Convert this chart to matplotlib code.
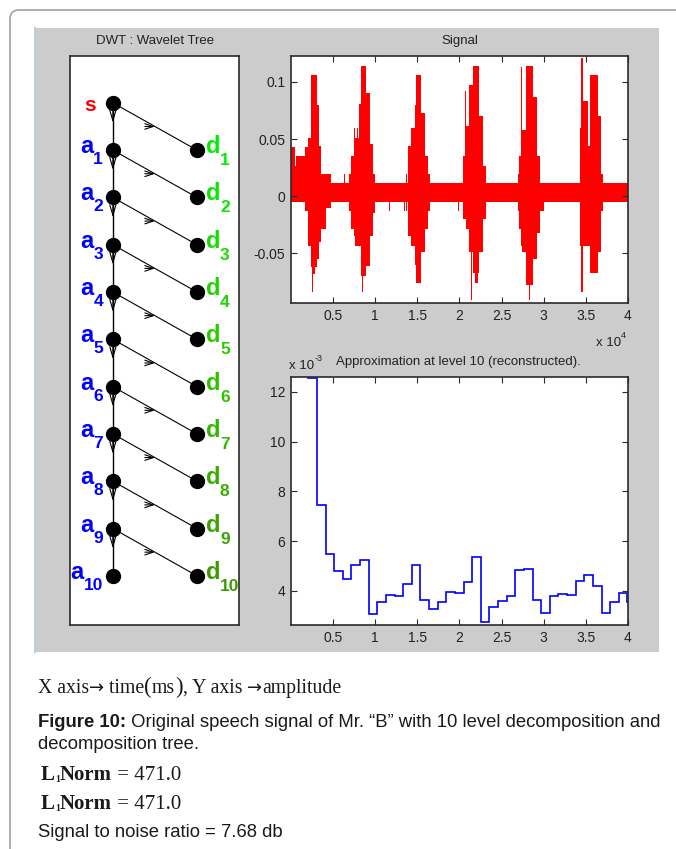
import numpy as np
import matplotlib.pyplot as plt
from matplotlib.patches import Rectangle, FancyBboxPatch
from matplotlib.transforms import offset_copy

# ---- data ----
n_samples = 40000
# quiet part of the signal: band between these limits (units of 1e-3)
quiet_hi, quiet_lo = 11.6, -5.0
# louder stretches: start sample, end sample, max, min (units of 1e-3)
sig_segments = [
    (0, 450, 43, -4), (450, 650, 26, -4), (650, 1650, 35, -4),
    (1650, 2050, 43, -13), (2050, 2430, 51, -44), (2430, 3030, 106, -62),
    (2500, 2580, 106, -84), (2600, 2900, 106, -68), (3030, 3300, 80, -55),
    (3300, 3620, 44, -40), (3620, 4100, 19, -29), (4100, 4800, 19, -10),
    (6350, 6450, 19, -5), (6900, 7170, 19, -13), (7170, 7570, 35, -29),
    (7500, 7600, 60, -35), (7570, 8050, 51, -44), (7850, 7950, 60, -44),
    (8050, 8350, 81, -44), (8350, 8950, 114, -70), (8450, 8550, 114, -84),
    (8950, 9350, 90, -61), (9350, 9740, 46, -35), (9740, 10000, 19, -15),
    (11650, 11750, 11.6, -13), (13450, 13550, 11.6, -13), (13650, 13750, 19, -13),
    (13880, 14280, 44, -35), (14280, 14670, 60, -44), (14670, 14870, 80, -60),
    (14870, 15460, 106, -76), (15460, 15860, 73, -49), (15860, 16250, 35, -29),
    (16250, 16450, 19, -13), (18600, 18680, 19, -5), (19850, 19930, 11.6, -13),
    (20390, 20780, 35, -20), (20680, 20760, 92, -20), (20780, 21180, 61, -29),
    (21180, 21580, 97, -49), (21420, 21500, 97, -91), (21580, 22370, 114, -67),
    (21800, 22200, 114, -76), (22370, 22760, 70, -49), (22760, 23160, 26, -20),
    (23800, 23880, 11.6, -13),
    (26950, 27110, 19, -13), (27110, 27390, 35, -29), (27300, 27380, 113, -44),
    (27390, 27900, 58, -49), (27900, 28690, 114, -78), (28250, 28330, 114, -91),
    (28690, 29160, 87, -55), (29160, 29590, 35, -32), (29590, 29990, 11.6, -13),
    (34250, 34410, 60, -44), (34410, 34610, 121, -84), (34610, 35200, 83, -44),
    (35200, 35520, 44, -44), (35520, 36390, 106, -67), (36390, 36780, 70, -49),
    (36780, 36980, 19, -13),
]

# level-10 approximation: one value per 1024-sample step (units of 1e-3)
approx_step = 1024
approx_vals = [16.0, 14.0, 12.54, 7.45, 5.49, 4.80, 4.47, 5.02, 5.25, 3.08,
               3.54, 3.82, 3.77, 4.28, 5.02, 3.63, 3.27, 3.54, 3.96, 3.90,
               4.37, 5.34, 2.75, 3.35, 3.59, 3.78, 4.83, 4.88, 3.63, 3.12,
               3.78, 3.86, 3.82, 4.39, 4.64, 4.20, 3.12, 3.54, 3.92, 3.54]

x_ticks = [5000, 10000, 15000, 20000, 25000, 30000, 35000, 40000]
x_ticklabels = ['0.5', '1', '1.5', '2', '2.5', '3', '3.5', '4']
sig_yticks = [-0.05, 0, 0.05, 0.1]
sig_yticklabels = ['-0.05', '0', '0.05', '0.1']
app_yticks = [4, 6, 8, 10, 12]

n_levels = 10
det_colors = ['#00ee00', '#0be600', '#16dd00', '#20d400', '#28cc00',
              '#2ec200', '#33b800', '#38ad00', '#3ca300', '#409900']

W, H = 676, 849
fig = plt.figure(figsize=(W / 100, H / 100), dpi=100)
plt.rcParams['font.family'] = ['Liberation Sans', 'DejaVu Sans']
renderer = fig.canvas.get_renderer()

bg = fig.add_axes([0, 0, 1, 1])
bg.set_xlim(0, W)
bg.set_ylim(H, 0)
bg.axis('off')
bg.add_patch(FancyBboxPatch((10, 10), 720, 900, boxstyle='round,pad=0,rounding_size=9',
                            fc='none', ec='#a8a8a8', lw=1.3))
bg.add_patch(Rectangle((34, 28), 625, 624, fc='#cccccc', ec='none'))
bg.plot([34.5, 34.5], [28, 652], color='#b8cfe8', lw=1.5)


def px_axes(l, t, r, b):
    return fig.add_axes([l / W, 1 - b / H, (r - l) / W, (b - t) / H])


def matlab_frame(ax):
    for sp in ax.spines.values():
        sp.set_color('#2a2a2a')
        sp.set_linewidth(1.2)


def runs(x, y, parts, color='#1a1a1a'):
    # consecutive pieces of text on one baseline, in figure pixels
    for txt, kw in parts:
        kw = dict(kw)
        dy = kw.pop('dy', 0)
        t = bg.text(x, y + dy, txt, va='baseline', ha='left', color=color, **kw)
        x += t.get_window_extent(renderer=renderer).width


# ---- wavelet tree ----
ax_t = px_axes(70, 56, 239, 625)
ax_t.set_xlim(0.49, 2.5)
ax_t.set_ylim(-11.04, 0.99)
ax_t.set_xticks([])
ax_t.set_yticks([])
matlab_frame(ax_t)

lev = np.arange(n_levels + 1)
ax_t.plot(np.ones(n_levels + 1), -lev, color='k', lw=1)
for k in range(n_levels):
    ax_t.plot([1, 2], [-k, -k - 1], color='k', lw=0.8)
    ax_t.annotate('', xy=(1, -k - 0.42), xytext=(1, -k - 0.12),
                  arrowprops=dict(arrowstyle='->,head_length=0.75,head_width=0.22',
                                  lw=0.8, color='k', shrinkA=0, shrinkB=0))
    ax_t.annotate('', xy=(1.5, -k - 0.5), xytext=(1.38, -k - 0.5),
                  arrowprops=dict(arrowstyle='->,head_length=0.6,head_width=0.2',
                                  lw=0.8, color='k', shrinkA=0, shrinkB=0))
ax_t.plot(np.ones(n_levels + 1), -lev, 'o', color='k', ms=10)
ax_t.plot(2 * np.ones(n_levels), -lev[1:], 'o', color='k', ms=10)


def off(dx, dy):
    return offset_copy(ax_t.transData, fig=fig, x=dx, y=-dy, units='dots')


lab = dict(fontweight='bold', va='baseline')
ax_t.text(1, 0, 's', transform=off(-17, 8), ha='right', color='#ff0000', fontsize=15, **lab)
for k in range(1, n_levels + 1):
    sub = str(k)
    ax_t.text(1, -k, sub, transform=off(-10, 14), ha='right', color='#0000ff', fontsize=12.5, **lab)
    ax_t.text(1, -k, 'a', transform=off(-10 - 9.6 * len(sub), 3), ha='right',
              color='#0000ff', fontsize=17, **lab)
    c = det_colors[k - 1]
    ax_t.text(2, -k, 'd', transform=off(9, 3), ha='left', color=c, fontsize=17, **lab)
    ax_t.text(2, -k, sub, transform=off(23, 15), ha='left', color=c, fontsize=12.5, **lab)

tick_kw = dict(direction='in', length=4, top=True, right=True, labelsize=10,
               color='#2a2a2a', labelcolor='#222222', pad=4)

# ---- signal ----
ax_s = px_axes(291, 56, 628, 303)
seg = np.array(sig_segments, dtype=float)
ax_s.bar([0], [(quiet_hi - quiet_lo) * 1e-3], width=n_samples, bottom=quiet_lo * 1e-3,
         align='edge', color='#ff0000', lw=0)
ax_s.bar(seg[:, 0], (seg[:, 2] - seg[:, 3]) * 1e-3, width=seg[:, 1] - seg[:, 0],
         bottom=seg[:, 3] * 1e-3, align='edge', color='#ff0000', lw=0)
ax_s.set_xlim(1, n_samples)
ax_s.set_ylim(-0.0936, 0.1227)
ax_s.set_xticks(x_ticks, x_ticklabels)
ax_s.set_yticks(sig_yticks, sig_yticklabels)
ax_s.tick_params(**tick_kw)
matlab_frame(ax_s)

# ---- approximation ----
ax_a = px_axes(291, 377, 628, 625)
app_edges = np.append(np.arange(len(approx_vals)) * approx_step, n_samples)
ax_a.stairs(approx_vals, app_edges, baseline=None, color='#0000ff', lw=1.2)
ax_a.set_xlim(1, n_samples)
ax_a.set_ylim(2.62, 12.6)
ax_a.set_xticks(x_ticks, x_ticklabels)
ax_a.set_yticks(app_yticks)
ax_a.tick_params(**tick_kw)
matlab_frame(ax_a)

# ---- titles and exponents ----
tcol = '#222222'
bg.text(155, 41, 'DWT : Wavelet Tree', ha='center', va='center', fontsize=9.5, color=tcol)
bg.text(460, 41, 'Signal', ha='center', va='center', fontsize=9.5, color=tcol)
bg.text(458, 362, 'Approximation at level 10 (reconstructed).', ha='center', va='center',
        fontsize=9.5, color=tcol)
runs(596, 346, [('x 10', dict(fontsize=9.5)), ('4', dict(fontsize=6.5, dy=-8))], color=tcol)
runs(289, 369, [('x 10', dict(fontsize=9.5)), ('-3', dict(fontsize=6.5, dy=-8))], color=tcol)

# ---- caption ----
serif = dict(family=['Liberation Serif', 'DejaVu Serif'], fontsize=14.2)
sans = dict(family=['Liberation Sans', 'DejaVu Sans'], fontsize=13.3)
arrow = dict(family=['DejaVu Sans'], fontsize=13)
runs(38, 693, [('X axis', serif), ('\u2192', arrow), (' time', serif),
               ('(', dict(serif, fontsize=16.5)), ('ms', serif), (')', dict(serif, fontsize=16.5)),
               (', Y axis ', serif), ('\u2192', arrow), ('amplitude', serif)])
runs(38, 727, [('Figure 10:', dict(sans, fontweight='bold')),
               (' Original speech signal of Mr. \u201cB\u201d with 10 level decomposition and', sans)])
runs(38, 749, [('decomposition tree.', sans)])
norm = dict(serif, fontsize=15)
for yb in (780, 809):
    runs(41, yb, [('L', dict(norm, fontweight='bold')),
                  ('1', dict(norm, fontsize=7, fontweight='bold', dy=2)),
                  ('Norm', dict(norm, fontweight='bold')),
                  (' = 471.0', norm)])
runs(38, 837, [('Signal to noise ratio = 7.68 db', sans)])

fig.savefig('out.png', dpi=100, facecolor='white')
